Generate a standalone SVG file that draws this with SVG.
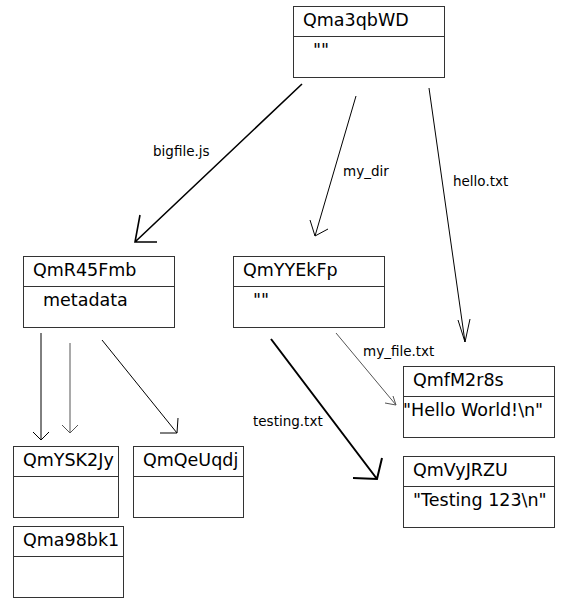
<svg xmlns="http://www.w3.org/2000/svg" width="576" height="599" viewBox="0 0 576 599">
<style>
.box{fill:#fff;stroke:#333;stroke-width:1}
.div{stroke:#333;stroke-width:1}
.t{font-family:"DejaVu Sans",sans-serif;font-size:17.5px;fill:#000}
.l{font-family:"DejaVu Sans",sans-serif;font-size:13.5px;fill:#000}
.e{fill:none;stroke:#000;stroke-width:1}
.g{fill:none;stroke:#555;stroke-width:1}
.k{fill:none;stroke:#000;stroke-width:1.6}
.kk{fill:none;stroke:#000;stroke-width:2}
</style>
<rect width="576" height="599" fill="#fff"/>
<g id="connectors">
<path class="k" d="M302,84 L135,242 M140,215 L135,242 L157,242"/>
<path class="e" d="M356,96 L315,236 M310,220 L315,236 L328,229"/>
<path class="e" d="M429,88 L465,342 M458,320 L465,342 L470,319"/>
<path class="e" d="M41,333 L41,440 M33,432 L41,440 L49,432"/>
<path class="g" d="M70,343 L70,433 M62,425 L70,433 L78,425"/>
<path class="e" d="M102,340 L177,433 M178,418 L177,433 L160,433"/>
<path class="g" d="M336,333 L396,405 M385,403 L396,405 L393,396"/>
<path class="kk" d="M271,339 L377,479 M382,458 L377,479 L353,478"/>
<text class="l" x="153" y="156">bigfile.js</text>
<text class="l" x="343" y="176">my_dir</text>
<text class="l" x="453" y="186">hello.txt</text>
<text class="l" x="363" y="356">my_file.txt</text>
<text class="l" x="253" y="426">testing.txt</text>
</g>
<g id="Qma3qbWD">
<rect class="box" x="293.5" y="6.5" width="151" height="71"/>
<line class="div" x1="293.5" y1="36.5" x2="444.5" y2="36.5"/>
<text class="t" x="303" y="26">Qma3qbWD</text>
<text class="t" x="313" y="56">""</text>
</g>
<g id="QmR45Fmb">
<rect class="box" x="23.5" y="256.5" width="151" height="71"/>
<line class="div" x1="23.5" y1="286.5" x2="174.5" y2="286.5"/>
<text class="t" x="33" y="276">QmR45Fmb</text>
<text class="t" x="43" y="306">metadata</text>
</g>
<g id="QmYYEkFp">
<rect class="box" x="233.5" y="256.5" width="151" height="71"/>
<line class="div" x1="233.5" y1="286.5" x2="384.5" y2="286.5"/>
<text class="t" x="243" y="276">QmYYEkFp</text>
<text class="t" x="253" y="306">""</text>
</g>
<g id="QmfM2r8s">
<rect class="box" x="403.5" y="366.5" width="151" height="71"/>
<line class="div" x1="403.5" y1="396.5" x2="554.5" y2="396.5"/>
<text class="t" x="413" y="386">QmfM2r8s</text>
<text class="t" x="403" y="416">"Hello World!\n"</text>
</g>
<g id="QmVyJRZU">
<rect class="box" x="403.5" y="456.5" width="151" height="71"/>
<line class="div" x1="403.5" y1="486.5" x2="554.5" y2="486.5"/>
<text class="t" x="413" y="476">QmVyJRZU</text>
<text class="t" x="413" y="506">"Testing 123\n"</text>
</g>
<g id="QmYSK2Jy">
<rect class="box" x="13.5" y="446.5" width="105" height="71"/>
<line class="div" x1="13.5" y1="476.5" x2="118.5" y2="476.5"/>
<text class="t" x="23" y="466">QmYSK2Jy</text>
</g>
<g id="QmQeUqdj">
<rect class="box" x="133.5" y="446.5" width="110" height="71"/>
<line class="div" x1="133.5" y1="476.5" x2="243.5" y2="476.5"/>
<text class="t" x="143" y="466">QmQeUqdj</text>
</g>
<g id="Qma98bk1">
<rect class="box" x="13.5" y="526.5" width="110" height="71"/>
<line class="div" x1="13.5" y1="556.5" x2="123.5" y2="556.5"/>
<text class="t" x="23" y="546">Qma98bk1</text>
</g>
</svg>
